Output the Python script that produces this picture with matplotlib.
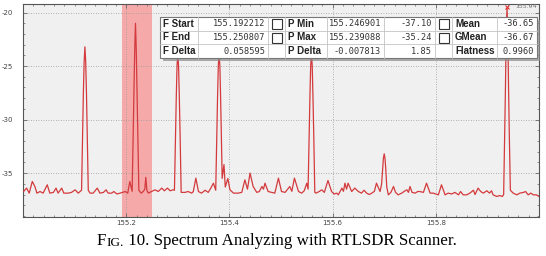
import matplotlib
matplotlib.use('Agg')
import matplotlib.pyplot as plt
from matplotlib.patches import Rectangle
from matplotlib.ticker import MultipleLocator

# spectrum trace (MHz, dB)
freq_mhz = [
    155.001, 155.007, 155.012, 155.018, 155.023, 155.027, 155.033, 155.039, 155.047, 155.052,
    155.059, 155.064, 155.068, 155.075, 155.079, 155.088, 155.094, 155.101, 155.107,
    155.1135, 155.1155, 155.117, 155.1185, 155.120, 155.1215, 155.123, 155.1245, 155.1265,
    155.130, 155.136, 155.144, 155.149, 155.156, 155.161, 155.165, 155.172, 155.176, 155.182, 155.188,
    155.198, 155.203, 155.207,
    155.2115, 155.2135, 155.215, 155.2165, 155.218, 155.2195, 155.221, 155.2225, 155.2245,
    155.229, 155.233, 155.236, 155.238, 155.240, 155.243, 155.249, 155.256, 155.262, 155.269,
    155.274, 155.280, 155.285, 155.291,
    155.2935, 155.2955, 155.297, 155.2985, 155.300, 155.3015, 155.303, 155.3045, 155.3065,
    155.314, 155.320, 155.327, 155.330, 155.335, 155.340, 155.346, 155.353, 155.359, 155.364, 155.369,
    155.3735, 155.3755, 155.377, 155.3785, 155.380, 155.3815, 155.383, 155.3845, 155.386,
    155.3895, 155.392, 155.397, 155.401, 155.408,
    155.417, 155.424, 155.430, 155.435, 155.440, 155.446, 155.453, 155.458, 155.463, 155.466,
    155.469, 155.475, 155.482, 155.488, 155.495, 155.501, 155.508, 155.517, 155.521, 155.526,
    155.534, 155.540, 155.545, 155.550,
    155.5525, 155.5545, 155.556, 155.5575, 155.559, 155.5605, 155.562, 155.5635, 155.5655,
    155.568, 155.574, 155.579, 155.584, 155.591, 155.598, 155.603, 155.608,
    155.611, 155.618, 155.621, 155.624, 155.627, 155.630, 155.637, 155.643, 155.650, 155.656,
    155.661, 155.666, 155.671, 155.676, 155.681, 155.685, 155.692,
    155.695, 155.697, 155.6985, 155.700, 155.7015, 155.703, 155.705,
    155.708, 155.713, 155.718, 155.722, 155.727, 155.734, 155.739, 155.744, 155.747, 155.750,
    155.754, 155.760, 155.765, 155.769, 155.776, 155.782, 155.789, 155.795, 155.805, 155.811,
    155.818, 155.824, 155.831, 155.837, 155.844, 155.848, 155.853, 155.860, 155.866, 155.873,
    155.876, 155.882, 155.887, 155.892, 155.899, 155.904, 155.908, 155.911, 155.918, 155.924, 155.929,
    155.9315, 155.9335, 155.935, 155.9365, 155.938, 155.9395, 155.941, 155.9425, 155.9445,
    155.950, 155.957, 155.963, 155.970, 155.974, 155.979, 155.984, 155.989, 155.995, 156.000,
]
level_db = [
    -36.72, -36.40, -36.87, -35.78, -36.25, -36.87, -36.72, -36.87, -36.09, -36.87,
    -36.80, -36.40, -36.87, -36.40, -36.87, -36.87, -36.80, -36.56, -36.87,
    -36.6, -31.5, -27.5, -24.6, -23.2, -24.6, -27.5, -31.5, -36.6,
    -36.87, -36.87, -36.40, -36.87, -36.80, -36.56, -36.87, -36.87, -36.72, -36.95, -36.87,
    -36.72, -36.87, -35.78,
    -36.7, -31.5, -27.5, -23.5, -21.0, -23.5, -27.5, -31.5, -36.6,
    -36.87, -36.72, -36.5, -35.40, -36.6, -36.87, -36.72, -36.56, -36.72, -36.40,
    -36.65, -36.40, -36.65, -36.56,
    -36.6, -31.5, -28.0, -25.0, -23.8, -25.0, -28.0, -31.5, -36.8,
    -36.80, -36.72, -36.87, -36.72, -35.47, -36.72, -36.87, -36.60, -36.80, -36.40, -35.94,
    -36.6, -31.5, -28.0, -25.0, -23.8, -25.0, -28.0, -31.5, -35.5,
    -34.2, -36.3, -35.5, -36.56, -36.87,
    -36.87, -36.80, -35.63, -36.5, -35.0, -36.25, -36.80, -36.72, -36.25, -36.5,
    -35.94, -36.72, -36.80, -36.87, -35.47, -36.72, -36.80, -36.25, -36.7, -35.47,
    -36.72, -36.87, -36.65, -35.94,
    -36.5, -31.5, -28.0, -25.0, -23.8, -25.0, -28.0, -31.5, -36.8,
    -36.87, -36.72, -36.56, -36.80, -35.69, -36.72, -36.95, -36.87,
    -37.03, -36.40, -36.7, -35.94, -36.5, -35.94, -36.72, -36.40, -36.72, -36.87,
    -36.6, -36.87, -37.0, -36.87, -36.7, -35.94, -36.72,
    -36.0, -34.6, -33.6, -33.2, -33.6, -34.6, -36.3,
    -37.03, -36.8, -36.25, -36.8, -37.03, -36.87, -36.7, -36.56, -36.8, -36.25,
    -36.8, -36.87, -36.72, -36.72, -36.8, -35.94, -36.87, -36.87, -37.03, -36.09,
    -37.03, -36.87, -36.95, -36.80, -37.03, -36.72, -37.03, -37.03, -36.87, -36.60,
    -37.0, -36.40, -36.72, -36.87, -36.65, -36.87, -36.65, -37.03, -37.18, -37.10, -37.18,
    -37.0, -31.5, -27.0, -21.5, -19.6, -21.5, -27.0, -31.5, -36.6,
    -36.87, -37.03, -36.87, -36.80, -36.72, -37.03, -36.87, -37.03, -37.03, -37.18,
]

span_start = 155.192212
span_end = 155.250807
marker_freq = 155.938
marker_label = "155.94"

x_ticks = [155.2, 155.4, 155.6, 155.8]
y_ticks = [-35, -30, -25, -20]

# measurement table shown over the plot
row1 = ["F Start", "155.192212", "box", "P Min", "155.246901", "-37.10", "box", "Mean", "-36.65"]
row2 = ["F End", "155.250807", "box", "P Max", "155.239088", "-35.24", "box", "GMean", "-36.67"]
row3 = ["F Delta", "0.058595", "", "P Delta", "-0.007813", "1.85", "", "Flatness", "0.9960"]
table_rows = [row1, row2, row3]

caption = ["F", "IG.", " 10. Spectrum Analyzing with RTLSDR Scanner."]

plt.rcParams['axes.unicode_minus'] = False

W, H = 546, 256
fig = plt.figure(figsize=(W / 100, H / 100), dpi=100)
ax = fig.add_axes([23 / W, 1 - 217 / H, 516 / W, 213 / H])
ax.set_facecolor('#f0f0f0')

ax.axvspan(span_start, span_end, color='#f5a9a9', lw=0, zorder=1)
ax.plot(freq_mhz, level_db, color='#d43a3d', lw=0.9, zorder=3)

ax.set_xlim(155.0, 156.0)
ax.set_ylim(-39.1, -19.2)
ax.set_xticks(x_ticks)
ax.set_yticks(y_ticks)
ax.xaxis.set_minor_locator(MultipleLocator(0.02))
ax.yaxis.set_minor_locator(MultipleLocator(1))
ax.tick_params(which='both', direction='in', top=True, right=True,
               color='#666', labelsize=5, labelcolor='#444')
ax.tick_params(which='major', length=3, width=0.6)
ax.tick_params(which='minor', length=1.5, width=0.5)
ax.tick_params(axis='y', pad=7)
ax.tick_params(axis='x', pad=2)
ax.grid(True, which='major', color='#9a9a9a', ls=(0, (1, 2)), lw=0.6)
for s in ax.spines.values():
    s.set_color('#555')
    s.set_linewidth(0.8)

# peak marker at the top
ax.plot([marker_freq], [-19.5], marker='x', ms=3, mew=0.8, color='#e03030', clip_on=False, zorder=6)
ax.annotate(marker_label, xy=(marker_freq, -19.45), xytext=(6, 0), textcoords='offset points',
            fontsize=4.5, color='#777', va='center', ha='left', annotation_clip=False)

# overlay in pixel coords for the table and caption
ov = fig.add_axes([0, 0, 1, 1], zorder=5)
ov.set_xlim(0, W)
ov.set_ylim(H, 0)
ov.axis('off')

col_edges = [160, 198, 268, 285, 327, 384, 435, 452, 497, 537]
row_edges = [17, 30.7, 44.3, 58]
right_cols = [1, 4, 5, 8]

ov.add_patch(Rectangle((col_edges[0] + 3, row_edges[0] + 3), col_edges[-1] - col_edges[0],
                       row_edges[-1] - row_edges[0], color='#8c8c8c', lw=0, alpha=0.7))
ov.add_patch(Rectangle((col_edges[0], row_edges[0]), col_edges[-1] - col_edges[0],
                       row_edges[-1] - row_edges[0], facecolor='white', edgecolor='#777', lw=0.8))
for x in col_edges[1:-1]:
    ov.plot([x, x], [row_edges[0], row_edges[-1]], color='#c4c4c4', lw=0.6)
for y in row_edges[1:-1]:
    ov.plot([col_edges[0], col_edges[-1]], [y, y], color='#c4c4c4', lw=0.6)

for r, row in enumerate(table_rows):
    yc = (row_edges[r] + row_edges[r + 1]) / 2
    for c, txt in enumerate(row):
        x0, x1 = col_edges[c], col_edges[c + 1]
        if txt == "box":
            ov.add_patch(Rectangle(((x0 + x1) / 2 - 5, yc - 5), 10, 10,
                                   facecolor='white', edgecolor='#333', lw=0.8))
        elif c in right_cols:
            ov.text(x1 - 3, yc, txt, fontsize=6.2, family='DejaVu Sans Mono',
                    color='#333', ha='right', va='center')
        elif txt:
            ov.text(x0 + 3, yc, txt, fontsize=7, family='Liberation Sans',
                    weight='bold', color='#222', ha='left', va='center')

# caption with small caps "FIG."
t = ov.text(97, 245, caption[0], fontsize=12.2, family='Liberation Serif', va='baseline')
t = ov.annotate(caption[1], xy=(1, 0), xycoords=t, fontsize=9.5,
                family='Liberation Serif', va='bottom')
ov.annotate(caption[2], xy=(1, 0), xycoords=t, fontsize=12.2,
            family='Liberation Serif', va='bottom')

fig.savefig('out.png', dpi=100, facecolor='white')
